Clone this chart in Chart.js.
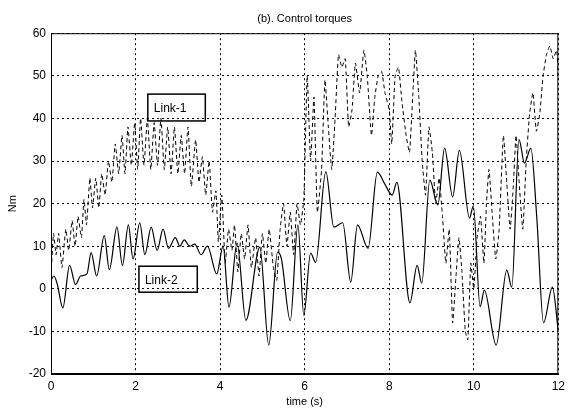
<!DOCTYPE html>
<html lang="en">
<head>
<meta charset="UTF-8">
<title>(b). Control torques</title>
<script src="https://cdn.jsdelivr.net/npm/chart.js"></script>
<style>
  * { margin: 0; padding: 0; box-sizing: border-box; }
  body { background: #fff; width: 570px; height: 409px; overflow: hidden; }
  .chart-box { position: relative; width: 570px; height: 409px; }
</style>
</head>
<body>
<div class="chart-box"><canvas id="torqueChart"></canvas></div>
<script>
// Link-1 (dashed) control torque, Nm
const link1Time = [0, 0.06, 0.12, 0.18, 0.26, 0.35, 0.42, 0.5, 0.57, 0.64, 0.72, 0.78, 0.84, 0.92, 0.98,
  1.06, 1.13, 1.2, 1.28, 1.36, 1.44, 1.52, 1.6, 1.68, 1.75, 1.82, 1.9, 1.98, 2.05, 2.12, 2.2, 2.28, 2.36,
  2.44, 2.52, 2.6, 2.68, 2.76, 2.84, 2.92, 3.0, 3.08, 3.16, 3.24, 3.32, 3.42, 3.5, 3.58, 3.66, 3.74, 3.82,
  3.9, 3.96, 4.04, 4.12, 4.2, 4.28, 4.34, 4.42, 4.5, 4.58, 4.66, 4.74, 4.84, 4.92, 5.0, 5.08, 5.16, 5.26,
  5.34, 5.42, 5.5, 5.58, 5.66, 5.74, 5.82, 5.9, 5.98, 6.06, 6.14, 6.22, 6.3, 6.4, 6.48, 6.56, 6.64, 6.72,
  6.8, 6.88, 6.96, 7.04, 7.12, 7.2, 7.3, 7.4, 7.48, 7.58, 7.66, 7.74, 7.82, 7.9, 8.0, 8.06, 8.14, 8.22,
  8.3, 8.4, 8.48, 8.56, 8.62, 8.7, 8.78, 8.86, 8.94, 9.02, 9.1, 9.18, 9.26, 9.34, 9.42, 9.5, 9.58, 9.65,
  9.72, 9.8, 9.86, 9.93, 10.0, 10.08, 10.16, 10.24, 10.3, 10.36, 10.44, 10.52, 10.6, 10.7, 10.78, 10.86,
  10.94, 11.0, 11.08, 11.16, 11.24, 11.32, 11.4, 11.48, 11.56, 11.64, 11.72, 11.8, 11.88, 11.96, 12.0];
const link1Torque = [3, 13, 8, 13, 5, 14, 9, 16, 10, 17, 12, 21, 15, 26, 19,
  26, 19, 27, 22, 30, 25, 34, 27, 36, 27, 38, 29, 39, 28, 40, 29, 40, 28,
  39, 29, 40, 28, 38, 27, 38, 27, 36, 27, 38, 24, 35, 25, 31, 22, 30, 18,
  23, 11, 22, 6, 14, 9, 15, 4, 13, 7, 15, 5, 12, 3, 13, 6, 14, 5,
  2, 14, 20, 10, 18, 8, 20, 15, 21, 50, 30, 45, 18, 28, 49, 38, 28, 40,
  55, 52, 54, 38, 42, 53, 46, 56, 50, 36, 45, 50, 51, 46, 42, 34, 50, 52,
  44, 36, 32, 46, 56, 45, 30, 22, 38, 32, 20, 26, 17, 6, 14, -8, 3, 12,
  4, -10, -12, 6, 0, 12, 17, 6, 20, 28, 17, 7, 14, 36, 25, 14,
  25, 36, 24, 14, 30, 41, 46, 37, 41, 50, 55, 57, 54, 56, 50];

// Link-2 (solid) control torque, Nm
const link2Time = [0, 0.07, 0.15, 0.28, 0.44, 0.58, 0.7, 0.85, 0.95, 1.08, 1.26, 1.38, 1.56, 1.69, 1.83,
  1.94, 2.1, 2.22, 2.37, 2.51, 2.65, 2.78, 2.94, 3.05, 3.15, 3.28, 3.4, 3.55, 3.7, 3.92, 4.07, 4.21, 4.4,
  4.61, 4.94, 5.15, 5.36, 5.45, 5.66, 5.84, 5.98, 6.14, 6.26, 6.5, 6.69, 6.9, 7.09, 7.25, 7.5, 7.72, 7.9,
  8.07, 8.18, 8.49, 8.66, 8.77, 8.96, 9.15, 9.31, 9.5, 9.66, 9.9, 9.99, 10.15, 10.25, 10.53, 10.78, 10.9,
  11.07, 11.2, 11.35, 11.49, 11.65, 11.86, 12.0];
const link2Torque = [2, 3, 1, -4.5, 5.5, 1, 3, 3.5, 8.5, 3, 12.5, 4.5, 14.5, 5.5, 15,
  7, 15.5, 8, 14.5, 9, 14, 9.5, 12, 10, 11.5, 10, 10.5, 8, 10, 3.5, 10, -4.3, 10.7,
  -7.4, 9.8, -13.2, 8.6, 7, -7.5, 15, -6.2, 8.4, 6.2, 27.5, 14.5, 15.5, 1.6, 15, 9.5, 27.4, 24.5,
  22, 25, -3.3, 5.5, 1.3, 25.5, 19.7, 33, 21.6, 32.5, 16.6, 19.5, -4.2, -0.3, -13.2, 4.4, 0.4,
  35, 29.5, 33, 16.8, -8, 0.4, -10];

// text boxes, in data units
const labelBoxes = [
  { text: 'Link-1', x0: 2.29, x1: 3.65, y0: 39.4, y1: 45.7 },
  { text: 'Link-2', x0: 2.08, x1: 3.46, y0: -0.8, y1: 5.3 }
];

const toPoints = (xs, ys) => xs.map((t, i) => ({ x: t, y: ys[i] }));

const fontFamily = '"Liberation Sans", Arial, sans-serif';

const framePlugin = {
  id: 'framePlugin',
  afterDatasetsDraw(chart) {
    const { ctx, chartArea: a, scales: { x, y } } = chart;
    ctx.save();
    ctx.strokeStyle = '#000';
    ctx.fillStyle = '#000';
    ctx.lineWidth = 1.5;
    ctx.font = '12px ' + fontFamily;
    ctx.textBaseline = 'middle';
    labelBoxes.forEach(b => {
      const l = x.getPixelForValue(b.x0), r = x.getPixelForValue(b.x1);
      const t = y.getPixelForValue(b.y1), bt = y.getPixelForValue(b.y0);
      ctx.strokeRect(l, t, r - l, bt - t);
      ctx.fillText(b.text, l + 6, (t + bt) / 2 + 1);
    });
    ctx.lineWidth = 1;
    ctx.strokeRect(a.left + 0.5, a.top + 0.5, a.right - a.left - 1, a.bottom - a.top - 1);
    ctx.restore();
  }
};

new Chart(document.getElementById('torqueChart'), {
  type: 'line',
  data: {
    datasets: [
      {
        label: 'Link-1',
        data: toPoints(link1Time, link1Torque),
        borderColor: '#000',
        borderWidth: 1,
        borderDash: [4, 3],
        pointRadius: 0,
        tension: 0.15,
        fill: false
      },
      {
        label: 'Link-2',
        data: toPoints(link2Time, link2Torque),
        borderColor: '#000',
        borderWidth: 1.2,
        pointRadius: 0,
        cubicInterpolationMode: 'monotone',
        fill: false
      }
    ]
  },
  options: {
    responsive: true,
    maintainAspectRatio: false,
    animation: false,
    layout: { padding: { left: 0, right: 6, top: 0, bottom: 0 } },
    plugins: {
      legend: { display: false },
      tooltip: { enabled: false },
      title: {
        display: true,
        text: '(b). Control torques',
        fullSize: false,
        color: '#000',
        font: { family: fontFamily, size: 11, weight: 'normal' },
        padding: { top: 12, bottom: 8 }
      }
    },
    scales: {
      x: {
        type: 'linear',
        min: 0,
        max: 12,
        afterFit: s => { s.height = 35; },
        ticks: { stepSize: 2, color: '#000', padding: 5, font: { family: fontFamily, size: 12 } },
        grid: { color: '#000', lineWidth: 1, drawTicks: false },
        border: { color: '#000', dash: [2, 3] },
        title: { display: true, text: 'time (s)', color: '#000', padding: 0, font: { family: fontFamily, size: 11 } }
      },
      y: {
        min: -20,
        max: 60,
        afterFit: s => { s.width = 51; },
        ticks: { stepSize: 10, color: '#000', padding: 5, font: { family: fontFamily, size: 12 } },
        grid: { color: '#000', lineWidth: 1, drawTicks: false },
        border: { color: '#000', dash: [2, 3] },
        title: { display: true, text: 'Nm', color: '#000', padding: { top: 6, bottom: 0 }, font: { family: fontFamily, size: 11 } }
      }
    }
  },
  plugins: [framePlugin]
});
</script>
</body>
</html>
